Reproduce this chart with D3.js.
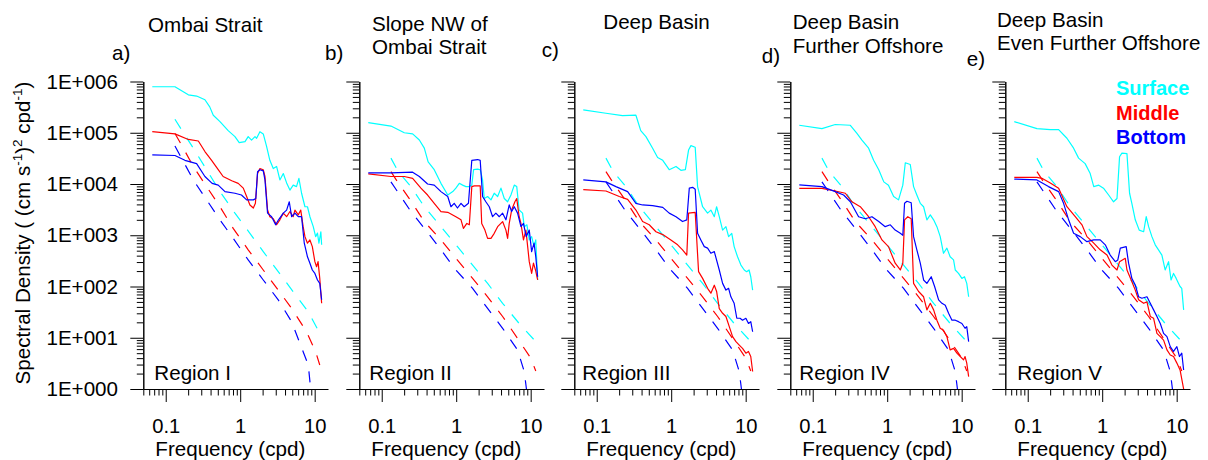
<!DOCTYPE html>
<html>
<head>
<meta charset="utf-8">
<script src="https://cdn.jsdelivr.net/npm/d3@7"></script>
<style>
  body { margin: 0; background: #fff; }
  svg { display: block; }
  text { font-family: "Liberation Sans", Arial, sans-serif; fill: #000; }
</style>
</head>
<body>
<svg id="chart" width="1208" height="460"></svg>
<script>
// ---- data: [frequency (cpd), spectral density] ----
var surfaceA = [[0.066,7.9e5],[0.133,7.9e5],[0.201,5.5e5],[0.26,5.2e5],[0.336,4.4e5],[0.39,3.2e5],[0.435,2.2e5],[0.535,1.65e5],[0.69,1.1e5],[0.85,8.4e4],[0.97,6.4e4],[1.16,6.7e4],[1.28,8.4e4],[1.42,7.2e4],[1.58,8.4e4],[1.66,7.8e4],[1.84,1.05e5],[2.04,9.5e4],[2.26,5.4e4],[2.5,2.9e4],[2.78,2.0e4],[3.08,2.2e4],[3.41,1.2e4],[3.79,1.6e4],[4.2,1.05e4],[4.65,7.6e3],[5.15,9.5e3],[5.7,8.9e3],[6.14,1.29e4],[6.67,6.6e3],[7.4,3.6e3],[8.0,3.6e3],[8.63,2.3e3],[9.57,1.47e3],[10.3,940],[10.9,1.1e3],[11.4,700],[12.1,1.17e3],[12.4,650]];
var middleA = [[0.066,1.05e5],[0.133,9.5e4],[0.201,7.4e4],[0.274,6.9e4],[0.336,4.3e4],[0.413,2.9e4],[0.507,1.9e4],[0.59,1.4e4],[0.77,1.16e4],[0.94,1.03e4],[1.1,8.3e3],[1.22,5.7e3],[1.35,3.9e3],[1.5,3.4e3],[1.6,4.2e3],[1.71,1.6e4],[1.84,2.0e4],[2.04,1.9e4],[2.15,1.4e4],[2.33,3.1e3],[2.5,2.3e3],[2.78,2.1e3],[3.08,1.6e3],[3.41,2.0e3],[3.79,2.7e3],[4.2,2.3e3],[4.65,2.9e3],[5.15,2.3e3],[5.43,3.1e3],[6.02,2.5e3],[6.5,3.1e3],[7.0,1.47e3],[7.4,940],[8.0,700],[8.63,810],[9.3,600],[10.06,305],[10.6,243],[11.1,305],[11.7,144],[12.4,47]];
var bottomA = [[0.066,3.7e4],[0.133,3.6e4],[0.181,2.9e4],[0.26,2.5e4],[0.336,1.4e4],[0.42,1.03e4],[0.507,9.5e3],[0.624,7.1e3],[0.85,6.6e3],[1.04,6.1e3],[1.22,4.9e3],[1.5,4.9e3],[1.62,5.2e3],[1.71,1.74e4],[1.84,1.9e4],[2.04,1.8e4],[2.15,1.2e4],[2.33,2.7e3],[2.64,2.3e3],[2.99,1.6e3],[3.27,2.0e3],[3.79,2.7e3],[4.2,3.1e3],[4.56,4.5e3],[4.9,2.3e3],[5.43,2.7e3],[6.02,2.3e3],[6.67,2.3e3],[7.25,700],[8.0,380],[8.63,285],[9.3,210],[10.06,180],[10.9,134],[11.7,115],[12.4,55]];

var surfaceB = [[0.066,1.57e5],[0.133,1.35e5],[0.201,1.0e5],[0.26,9.5e4],[0.32,7.2e4],[0.373,5.0e4],[0.42,2.7e4],[0.507,1.9e4],[0.624,1.03e4],[0.77,6.1e3],[0.9,7.1e3],[0.99,8.3e3],[1.1,1.03e4],[1.22,9.5e3],[1.35,8.9e3],[1.5,8.9e3],[1.62,9.5e3],[1.71,1.9e4],[1.94,1.95e4],[2.1,1.9e4],[2.26,1.2e4],[2.38,5.2e3],[2.64,5.7e3],[2.93,4.9e3],[3.24,6.6e3],[3.6,5.7e3],[3.99,8.3e3],[4.42,5.2e3],[4.9,4.5e3],[5.43,6.1e3],[6.02,9.5e3],[6.5,8.9e3],[7.0,3.1e3],[7.78,2.7e3],[8.2,1.47e3],[8.9,1.6e3],[9.57,810],[10.3,940],[11.1,600],[11.7,810],[12.4,134]];
var middleB = [[0.066,1.57e4],[0.133,1.4e4],[0.201,1.4e4],[0.26,1.29e4],[0.336,8.3e3],[0.413,6.1e3],[0.507,4.2e3],[0.624,2.9e3],[0.77,2.8e3],[0.99,2.3e3],[1.16,2.0e3],[1.25,1.36e3],[1.39,1.7e3],[1.5,1.6e3],[1.62,8.9e3],[1.75,9.2e3],[2.1,9.2e3],[2.2,1.7e3],[2.43,1.26e3],[2.64,870],[2.93,870],[3.24,1.09e3],[3.6,1.47e3],[4.2,1.85e3],[4.65,1.26e3],[4.9,870],[5.15,1.7e3],[5.55,3.1e3],[6.14,4.5e3],[6.5,5.2e3],[7.0,2.3e3],[7.4,1.7e3],[8.0,810],[8.63,1.26e3],[9.57,305],[10.3,180],[10.9,285],[11.6,210],[12.4,134]];
var bottomB = [[0.066,1.65e4],[0.133,1.65e4],[0.26,1.7e4],[0.32,1.4e4],[0.413,1.0e4],[0.507,9.5e3],[0.624,7.1e3],[0.77,5.7e3],[0.85,3.6e3],[0.94,4.2e3],[1.04,3.4e3],[1.16,4.2e3],[1.28,3.6e3],[1.46,4.2e3],[1.62,2.9e4],[1.94,3.0e4],[2.1,2.9e4],[2.26,5.7e3],[2.5,4.5e3],[2.78,3.6e3],[3.08,2.3e3],[3.41,2.7e3],[3.79,2.3e3],[4.2,2.7e3],[4.65,2.0e3],[5.15,3.9e3],[5.55,2.9e3],[6.02,3.6e3],[6.67,2.7e3],[7.4,1.47e3],[8.0,1.7e3],[8.7,940],[9.57,1.26e3],[10.3,480],[11.1,700],[11.7,380],[12.4,155]];

var surfaceC = [[0.066,2.8e5],[0.133,2.4e5],[0.222,2.15e5],[0.336,2.2e5],[0.39,1.1e5],[0.458,8.4e4],[0.563,5.0e4],[0.657,3.3e4],[0.77,2.9e4],[0.94,1.9e4],[1.16,2.2e4],[1.35,1.85e4],[1.55,1.9e4],[1.71,4.6e4],[1.84,5.6e4],[2.1,5.2e4],[2.26,8.9e3],[2.64,3.6e3],[3.08,2.7e3],[3.41,3.1e3],[3.79,2.3e3],[4.07,3.6e3],[4.42,2.3e3],[4.9,1.26e3],[5.43,1.47e3],[5.9,940],[6.5,1.09e3],[7.0,600],[7.78,380],[8.63,262],[9.57,210],[10.3,195],[11.1,210],[11.7,155],[12.4,85]];
var middleC = [[0.066,7.8e3],[0.133,7.3e3],[0.201,5.7e3],[0.26,5.0e3],[0.336,3.1e3],[0.413,1.85e3],[0.507,1.6e3],[0.624,1.17e3],[0.77,1.03e3],[0.99,810],[1.22,650],[1.42,520],[1.62,410],[1.71,2.7e3],[2.1,2.8e3],[2.33,195],[2.64,144],[3.08,92],[3.41,74],[3.79,106],[4.07,80],[4.42,37],[4.9,30],[5.43,26],[6.02,16.5],[6.67,10.5],[7.4,8.4],[8.2,7.2],[9.07,6.2],[10.06,5.0],[10.9,5.4],[11.7,4.3],[12.4,2.2]];
var bottomC = [[0.066,1.2e4],[0.133,1.1e4],[0.181,8.9e3],[0.26,7.1e3],[0.336,4.2e3],[0.413,3.9e3],[0.563,3.8e3],[0.77,3.5e3],[0.94,2.7e3],[1.16,2.3e3],[1.42,1.85e3],[1.62,2.0e3],[1.75,8.3e3],[1.94,8.6e3],[2.1,7.9e3],[2.26,1.09e3],[2.5,810],[2.78,600],[3.08,560],[3.41,445],[3.79,480],[4.42,210],[4.9,115],[5.43,85],[5.9,92],[6.33,63],[7.0,47],[7.6,24],[8.4,24],[9.07,22],[10.06,24],[10.9,19],[11.7,20.6],[12.4,13.1]];

var surfaceD = [[0.066,1.4e5],[0.133,1.2e5],[0.201,1.45e5],[0.32,1.4e5],[0.39,9.8e4],[0.458,7.2e4],[0.563,5.0e4],[0.657,2.9e4],[0.77,1.9e4],[0.9,1.1e4],[1.04,9.5e3],[1.22,5.7e3],[1.42,4.9e3],[1.62,9.5e3],[1.75,2.6e4],[2.04,2.4e4],[2.26,8.9e3],[2.5,6.1e3],[2.78,4.2e3],[3.08,3.6e3],[3.41,2.0e3],[3.79,2.5e3],[4.2,2.0e3],[4.65,1.47e3],[5.15,940],[5.7,445],[6.33,560],[7.0,380],[7.78,330],[8.2,210],[9.07,180],[10.06,144],[10.9,155],[11.7,115],[12.4,63]];
var middleD = [[0.066,8.2e3],[0.133,8.2e3],[0.201,7.3e3],[0.274,6.6e3],[0.336,4.5e3],[0.435,3.6e3],[0.563,2.3e3],[0.69,1.47e3],[0.85,810],[1.04,600],[1.28,285],[1.5,210],[1.62,285],[1.71,2.0e3],[1.89,2.3e3],[2.1,2.1e3],[2.26,115],[2.64,80],[3.08,63],[3.41,35],[3.79,47],[4.2,35],[4.65,22],[5.15,15.3],[5.7,14],[6.33,10.5],[7.0,5.8],[7.78,6.2],[8.63,5.0],[9.57,4.3],[10.6,3.7],[11.1,4.3],[11.7,3.2],[12.4,1.74]];
var bottomD = [[0.066,9.6e3],[0.133,8.9e3],[0.201,7.1e3],[0.26,6.1e3],[0.32,4.5e3],[0.413,2.3e3],[0.507,2.1e3],[0.624,2.3e3],[0.77,1.85e3],[0.94,1.47e3],[1.1,1.6e3],[1.28,1.26e3],[1.5,1.09e3],[1.62,1.0e3],[1.71,4.2e3],[1.84,4.6e3],[2.1,4.3e3],[2.26,940],[2.5,520],[2.78,285],[3.08,134],[3.41,115],[3.9,155],[4.33,100],[4.9,55],[5.43,47],[6.02,43],[6.67,30],[7.4,22],[8.2,22],[9.07,20.6],[10.06,19],[11.1,15.3],[11.7,16.5],[12.4,8.4]];

var surfaceE = [[0.066,1.65e5],[0.133,1.2e5],[0.201,1.15e5],[0.26,1.15e5],[0.336,7.8e4],[0.413,5.0e4],[0.482,3.2e4],[0.59,2.5e4],[0.69,1.6e4],[0.77,8.9e3],[0.9,9.5e3],[1.04,8.3e3],[1.22,6.1e3],[1.42,4.5e3],[1.58,5.2e3],[1.71,3.4e4],[1.84,4.0e4],[2.15,3.9e4],[2.33,6.6e3],[2.5,4.2e3],[2.78,2.0e3],[3.14,1.26e3],[3.6,1.17e3],[3.9,2.3e3],[4.2,1.47e3],[4.65,940],[5.15,650],[5.7,520],[6.33,410],[7.0,210],[7.78,305],[8.4,134],[9.07,180],[9.85,144],[10.6,115],[11.1,100],[11.7,92],[12.4,35]];
var middleE = [[0.066,1.35e4],[0.133,1.35e4],[0.155,1.29e4],[0.201,1.05e4],[0.26,8.3e3],[0.336,3.6e3],[0.435,2.3e3],[0.535,1.6e3],[0.624,940],[0.77,700],[0.94,520],[1.16,410],[1.35,262],[1.58,210],[1.71,305],[2.04,355],[2.15,210],[2.45,134],[2.78,85],[3.08,55],[3.6,47],[3.99,50],[4.42,26],[4.9,24],[5.43,12.2],[6.02,10.5],[6.67,9.0],[7.4,5.8],[8.2,4.6],[9.07,4.3],[10.06,3.2],[11.1,2.35],[12.4,1.0]];
var bottomE = [[0.066,1.25e4],[0.133,1.2e4],[0.19,8.9e3],[0.26,7.1e3],[0.303,4.2e3],[0.354,2.0e3],[0.413,1.09e3],[0.507,940],[0.624,750],[0.77,810],[0.94,810],[1.1,650],[1.28,410],[1.5,305],[1.62,330],[1.75,560],[2.1,600],[2.26,285],[2.5,144],[2.78,107],[3.08,63],[3.41,59],[3.99,63],[4.42,47],[4.9,35],[5.43,26],[6.02,19],[6.67,12.2],[7.4,10.5],[8.2,6.7],[9.07,5.4],[10.06,6.7],[10.9,4.3],[11.7,5.0],[12.4,2.35]];

// model (dashed) spectra
var modelSurfaceA = [[0.133,1.83e5],[0.2345,5.0e4],[0.354,1.9e4],[0.535,7.1e3],[0.85,2.7e3],[1.35,1.09e3],[2.04,480],[3.24,195],[5.15,79],[8.2,32],[11.7,12.2]];
var modelMiddleA = [[0.133,9.7e4],[0.163,5.8e4],[0.2345,2.2e4],[0.354,8.9e3],[0.535,3.6e3],[0.805,1.36e3],[1.28,520],[2.04,210],[3.24,85],[4.9,37.5],[7.78,13.1],[10.3,5.35],[11.7,2.94]];
var modelBottomA = [[0.133,5.5e4],[0.163,3.2e4],[0.2345,1.2e4],[0.354,4.9e3],[0.535,2.0e3],[0.805,870],[1.28,330],[2.04,134],[3.24,55],[4.9,20.6],[6.33,7.8],[8.2,2.94],[8.9,0.9]];
var modelSurface = [[0.133,3.2e4],[0.167,1.73e4],[0.247,8.9e3],[0.373,3.6e3],[0.624,1.47e3],[1.04,600],[1.66,262],[2.64,115],[4.2,47],[7.0,19],[11.7,8.4]];
var modelMiddle = [[0.133,1.74e4],[0.163,1.1e4],[0.2345,5.2e3],[0.373,1.85e3],[0.624,810],[0.99,355],[1.66,144],[2.64,63],[4.2,26],[6.67,9.7],[10.06,3.97],[11.7,2.25]];
var modelBottom = [[0.133,1.1e4],[0.163,7.1e3],[0.247,2.9e3],[0.39,1.26e3],[0.624,520],[0.99,210],[1.66,92],[2.64,37.4],[4.2,15.3],[6.67,5.77],[8.2,2.18],[8.85,0.9]];

var panelLetters = ["a)", "b)", "c)", "d)", "e)"];
var panelTitles = [["Ombai Strait"], ["Slope NW of", "Ombai Strait"], ["Deep Basin"],
  ["Deep Basin", "Further Offshore"], ["Deep Basin", "Even Further Offshore"]];
var regionNames = ["Region I", "Region II", "Region III", "Region IV", "Region V"];
var legendNames = ["Surface", "Middle", "Bottom"];
var freqTicks = [0.1, 1, 10];
var densityTicks = [1, 10, 100, 1e3, 1e4, 1e5, 1e6];

var observed = [
  [surfaceA, middleA, bottomA],
  [surfaceB, middleB, bottomB],
  [surfaceC, middleC, bottomC],
  [surfaceD, middleD, bottomD],
  [surfaceE, middleE, bottomE]
];
var models = [
  [modelSurfaceA, modelMiddleA, modelBottomA],
  [modelSurface, modelMiddle, modelBottom],
  [modelSurface, modelMiddle, modelBottom],
  [modelSurface, modelMiddle, modelBottom],
  [modelSurface, modelMiddle, modelBottom]
];

// ---- layout ----
var colors = ["#00ffff", "#ff0000", "#0000ff"];
var fontSize = 20.6;
var panelLeft = [143.3, 359.3, 574.3, 790.3, 1005.3];
var plotW = 184.5, plotTop = 81.5, plotBottom = 389;
var titleDx = [4.7, 12.7, 29, 2.4, -8.3];
var titleY = [[32], [31, 53.5], [29.3], [29.3, 53.3], [27, 50]];
var letterX = [112, 325, 541.7, 761.7, 966.7];
var letterY = [60, 60, 57, 63, 65.5];
var regionDx = [11, 10, 8, 9, 12];

var svg = d3.select("#chart");

var x = d3.scaleLog().domain([0.05, 15]).range([0, plotW]);
var y = d3.scaleLog().domain([1, 1e6]).range([plotBottom - plotTop, 0]);

// minor tick values
var xMinor = [], yMinor = [];
[0.01, 0.1, 1].forEach(function(p) {
  for (var k = 2; k <= 9; k++) {
    var v = +(k * p).toPrecision(3);
    if (v >= 0.05 && v < 15) xMinor.push(v);
  }
});
densityTicks.slice(0, 6).forEach(function(p) {
  for (var k = 2; k <= 9; k++) yMinor.push(k * p);
});

var line = d3.line()
  .x(function(d) { return x(d[0]); })
  .y(function(d) { return y(d[1]); });

svg.append("defs").append("clipPath").attr("id", "plotclip")
  .append("rect").attr("x", 0).attr("y", 0)
  .attr("width", plotW + 2).attr("height", plotBottom - plotTop);

function styleAxis(g, size) {
  g.selectAll("path.domain").attr("stroke", "#000").attr("stroke-width", 1);
  g.selectAll(".tick line").attr("stroke", "#000").attr("stroke-width", 1);
  g.selectAll("text").attr("font-size", size || fontSize).attr("font-family", null).attr("fill", "#000");
}

panelLeft.forEach(function(left, i) {
  var g = svg.append("g").attr("transform", "translate(" + left + "," + plotTop + ")");

  // axes
  var yMaj = g.append("g").call(d3.axisLeft(y).tickValues(densityTicks).tickSize(13).tickSizeOuter(0)
    .tickPadding(12.3)
    .tickFormat(function(d) {
      return i === 0 ? "1E+" + String(Math.round(Math.log10(d))).padStart(3, "0") : "";
    }));
  styleAxis(yMaj);
  var yMin = g.append("g").call(d3.axisLeft(y).tickValues(yMinor).tickSize(6.5).tickSizeOuter(0).tickFormat(""));
  styleAxis(yMin);

  var xMaj = g.append("g").attr("transform", "translate(0," + (plotBottom - plotTop) + ")")
    .call(d3.axisBottom(x).tickValues(freqTicks).tickSize(13).tickSizeOuter(0).tickPadding(16.5)
      .tickFormat(function(d) { return String(d); }));
  styleAxis(xMaj, 20.2);
  var xMin = g.append("g").attr("transform", "translate(0," + (plotBottom - plotTop) + ")")
    .call(d3.axisBottom(x).tickValues(xMinor).tickSize(6.5).tickSizeOuter(0).tickFormat(""));
  styleAxis(xMin);

  // curves
  var plot = g.append("g").attr("clip-path", "url(#plotclip)");
  models[i].forEach(function(series, s) {
    plot.append("path").datum(series)
      .attr("d", line).attr("fill", "none")
      .attr("stroke", colors[s]).attr("stroke-width", 1.2)
      .attr("stroke-dasharray", "11,11");
  });
  observed[i].forEach(function(series, s) {
    plot.append("path").datum(series)
      .attr("d", line).attr("fill", "none")
      .attr("stroke", colors[s]).attr("stroke-width", 1.2)
      .attr("stroke-linejoin", "round");
  });

  // labels
  g.append("text").attr("x", regionDx[i]).attr("y", 380 - plotTop)
    .attr("font-size", fontSize).text(regionNames[i]);
  g.append("text").attr("x", 87).attr("y", 455.5 - plotTop)
    .attr("text-anchor", "middle").attr("font-size", fontSize).text("Frequency (cpd)");

  panelTitles[i].forEach(function(t, k) {
    svg.append("text").attr("x", left + titleDx[i]).attr("y", titleY[i][k])
      .attr("font-size", fontSize).text(t);
  });
  svg.append("text").attr("x", letterX[i]).attr("y", letterY[i])
    .attr("font-size", fontSize).text(panelLetters[i]);
});

// y axis title
var yt = svg.append("text")
  .attr("transform", "translate(30,233) rotate(-90)")
  .attr("text-anchor", "middle").attr("font-size", fontSize);
yt.append("tspan").text("Spectral Density ( (cm s");
yt.append("tspan").attr("font-size", 13.5).attr("dy", -8).text("-1");
yt.append("tspan").attr("dy", 8).text(")");
yt.append("tspan").attr("font-size", 13.5).attr("dy", -8).text("2");
yt.append("tspan").attr("dy", 8).text(" cpd");
yt.append("tspan").attr("font-size", 13.5).attr("dy", -8).text("-1");
yt.append("tspan").attr("dy", 8).text(")");

// legend
legendNames.forEach(function(name, k) {
  svg.append("text").attr("x", 1116).attr("y", 95 + k * 24.5)
    .attr("font-size", 20).attr("font-weight", "bold")
    .style("fill", colors[k]).text(name);
});
</script>
</body>
</html>
